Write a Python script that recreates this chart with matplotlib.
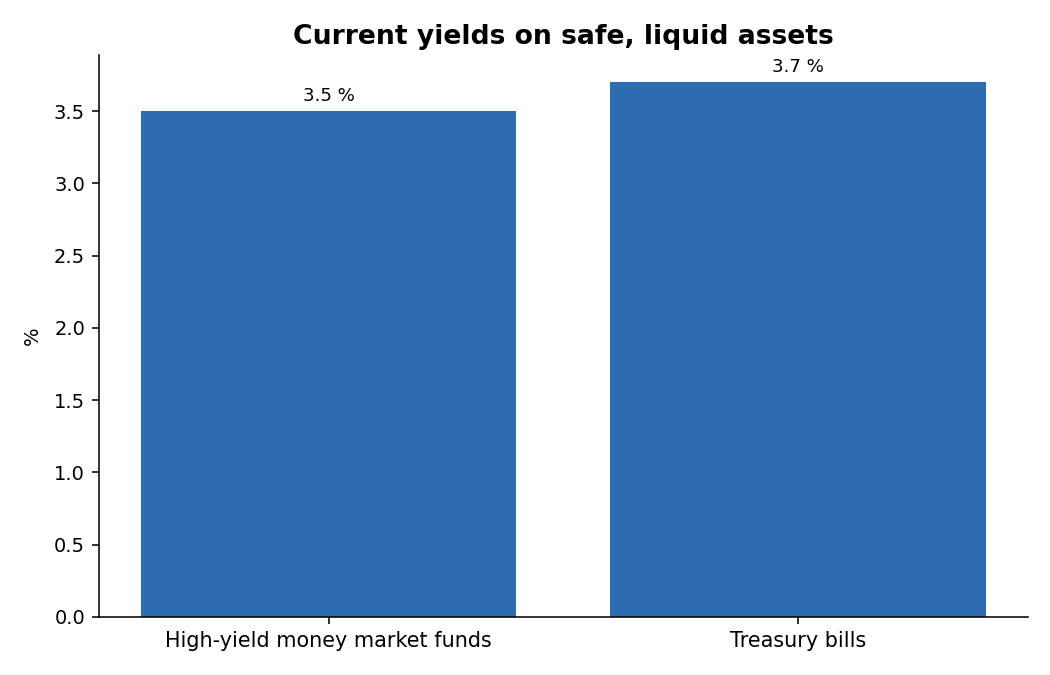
import matplotlib
matplotlib.use("Agg")
import matplotlib.pyplot as plt

categories = ["High-yield money market funds", "Treasury bills"]
yields_pct = [3.5, 3.7]

BAR_COLOR = "#2d6cb0"

fig, ax = plt.subplots(figsize=(7.5, 675 / 140), dpi=140)
fig.subplots_adjust(left=0.094, right=0.979, bottom=0.086, top=0.918)

bars = ax.bar(categories, yields_pct, width=0.8, color=BAR_COLOR)
for rect, v in zip(bars, yields_pct):
    ax.annotate(f"{v} %", (rect.get_x() + rect.get_width() / 2, v),
                xytext=(0, 3), textcoords="offset points",
                ha="center", va="bottom", fontsize=9.3)

ax.set_title("Current yields on safe, liquid assets", fontsize=13.7,
             fontweight="bold")
ax.set_ylabel("%", fontsize=10, labelpad=6)
ax.tick_params(axis="x", labelsize=10.7)
ax.tick_params(axis="y", labelsize=10)
ax.spines["top"].set_visible(False)
ax.spines["right"].set_visible(False)

fig.savefig("out.png", dpi=140)
